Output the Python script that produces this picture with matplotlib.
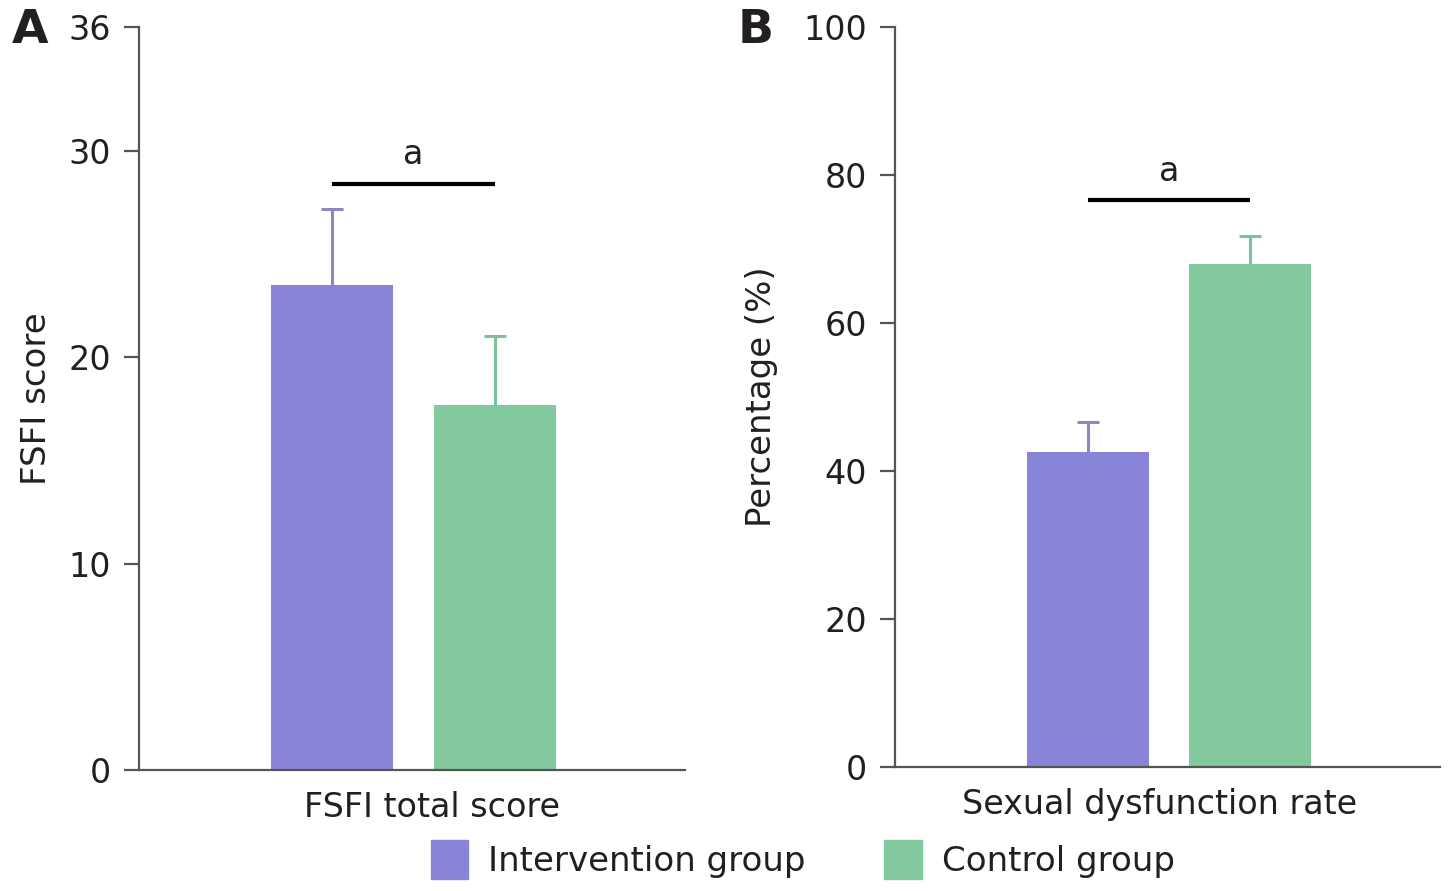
import matplotlib
matplotlib.use("Agg")
import matplotlib.pyplot as plt

plt.rcParams["font.family"] = ["DejaVu Sans"]

groups = ["Intervention group", "Control group"]
colors = ["#8884d8", "#82ca9d"]
err_colors = ["#8b88c4", "#80bf9b"]

# Panel A: FSFI total score
fsfi_mean = [23.5, 17.7]
fsfi_err = [3.7, 3.35]
fsfi_sig = 28.4

# Panel B: sexual dysfunction rate (%)
rate_mean = [42.6, 68.0]
rate_err = [4.0, 3.8]
rate_sig = 76.6

text_col = "#231f20"
axis_col = "#555555"

fig = plt.figure(figsize=(14.49, 8.91), dpi=100)
axA = fig.add_axes([0.0959, 0.1358, 0.3768, 0.8339])
axB = fig.add_axes([0.6177, 0.1392, 0.3761, 0.8305])


def draw_panel(ax, means, errs, sig_y, ymax, yticks, ylabel, xlabel, letter,
               a_off, xlab_x, letter_x):
    x = [0, 1]
    for i in range(2):
        ax.bar(x[i], means[i], width=0.75, color=colors[i], zorder=2)
        _, caps, _ = ax.errorbar(x[i], means[i], yerr=[[0], [errs[i]]],
                                 color=err_colors[i], elinewidth=2.2, capsize=8,
                                 capthick=2.2, zorder=1)
        # only keep the upper cap
        for c in caps:
            if c.get_ydata()[0] <= means[i]:
                c.set_visible(False)
    ax.plot([0, 1], [sig_y, sig_y], color="black", lw=3, solid_capstyle="butt")
    ax.text(0.5, sig_y + a_off, "a", ha="center", va="bottom", fontsize=24, color=text_col)
    ax.set_xlim(-1.19, 2.17)
    ax.set_ylim(0, ymax)
    ax.set_yticks(yticks)
    ax.set_xticks([])
    ax.spines["top"].set_visible(False)
    ax.spines["right"].set_visible(False)
    for s in ["left", "bottom"]:
        ax.spines[s].set_color(axis_col)
        ax.spines[s].set_linewidth(1.6)
    ax.tick_params(axis="y", length=11, width=1.6, color=axis_col, pad=9,
                   labelsize=24, labelcolor=text_col)
    ax.set_ylabel(ylabel, fontsize=24.5, color=text_col)
    ax.set_xlabel(xlabel, fontsize=24, color=text_col)
    ax.xaxis.set_label_coords(xlab_x, -0.028, transform=ax.transAxes)
    ax.xaxis.label.set_va("top")
    ax.text(letter_x, 0.995, letter, transform=ax.transAxes, fontsize=34,
            fontweight="bold", color=text_col, ha="left", va="center")


draw_panel(axA, fsfi_mean, fsfi_err, fsfi_sig, 36, [0, 10, 20, 30, 36],
           "FSFI score", "FSFI total score", "A", 0.6, 0.537, -0.233)
draw_panel(axB, rate_mean, rate_err, rate_sig, 100, [0, 20, 40, 60, 80, 100],
           "Percentage (%)", "Sexual dysfunction rate", "B", 1.6, 0.486, -0.288)
axA.yaxis.set_label_coords(-0.158, 0.5)
axB.yaxis.set_label_coords(-0.214, 0.5)

handles = [plt.Rectangle((0, 0), 1, 1, color=c) for c in colors]
fig.legend(handles, groups, loc="center", bbox_to_anchor=(0.554, 0.035), ncol=2,
           frameon=False, fontsize=24.5, handlelength=1.1, handleheight=1.4,
           columnspacing=2.3, handletextpad=0.6, labelcolor=text_col)

fig.savefig("out.png", dpi=100)
